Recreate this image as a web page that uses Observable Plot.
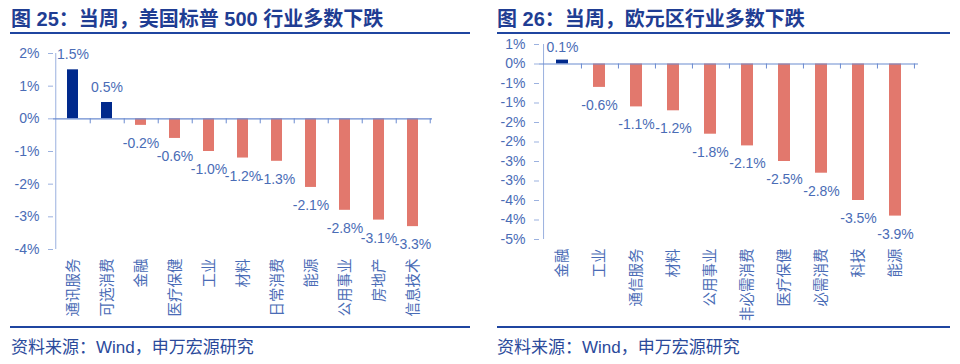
<!DOCTYPE html>
<html>
<head>
<meta charset="utf-8">
<script src="https://cdn.jsdelivr.net/npm/d3@7"></script>
<script src="https://cdn.jsdelivr.net/npm/@observablehq/plot@0.6"></script>
<style>
  html, body { margin: 0; padding: 0; background: #fff; }
  #page { position: relative; width: 960px; height: 364px; overflow: hidden; background: #fff;
          font-family: "Liberation Sans", "Noto Sans CJK SC", sans-serif; }
  .title { position: absolute; top: 9px; font-size: 20px; line-height: 20px; font-weight: bold; color: #1f3d93; white-space: nowrap; }
  .rule { position: absolute; height: 2px; background: #1f45a0; }
  .caption { position: absolute; top: 339px; font-size: 17px; line-height: 17px; color: #2b4a9b; white-space: nowrap; }
  .chart { position: absolute; top: 34px; }
  .chart svg { overflow: visible; }
</style>
</head>
<body>
<div id="page">
  <div class="title" style="left:11px">图 25：当周，美国标普 500 行业多数下跌</div>
  <div class="rule" style="left:10px;width:460px;top:32px"></div>
  <div class="title" style="left:497px">图 26：当周，欧元区行业多数下跌</div>
  <div class="rule" style="left:497px;width:453px;top:32px"></div>
  <div class="chart" id="left" style="left:0px"></div>
  <div class="chart" id="right" style="left:480px"></div>
  <div class="rule" style="left:10px;width:460px;top:326px"></div>
  <div class="rule" style="left:497px;width:453px;top:326px"></div>
  <div class="caption" style="left:11px">资料来源：Wind，申万宏源研究</div>
  <div class="caption" style="left:497px">资料来源：Wind，申万宏源研究</div>
</div>
<script>
// ---- data: 图25 美国标普500行业周涨跌幅 ----
const usCategories = ["通讯服务", "可选消费", "金融", "医疗保健", "工业", "材料", "日常消费", "能源", "公用事业", "房地产", "信息技术"];
const usValues = [1.5, 0.5, -0.2, -0.6, -1.0, -1.2, -1.3, -2.1, -2.8, -3.1, -3.3];
const usTicks = [2, 1, 0, -1, -2, -3, -4];
const usTickLabels = ["2%", "1%", "0%", "-1%", "-2%", "-3%", "-4%"];

// ---- data: 图26 欧元区行业周涨跌幅 ----
const euCategories = ["金融", "工业", "通信服务", "材料", "公用事业", "非必需消费", "医疗保健", "必需消费", "科技", "能源"];
const euValues = [0.1, -0.6, -1.1, -1.2, -1.8, -2.1, -2.5, -2.8, -3.5, -3.9];
const euTicks = [0.5, 0, -0.5, -1, -1.5, -2, -2.5, -3, -3.5, -4, -4.5];
const euTickLabels = ["1%", "0%", "-1%", "-1%", "-2%", "-2%", "-3%", "-3%", "-4%", "-4%", "-5%"];

// ---- styling ----
const FONT = "'Liberation Sans', 'Noto Sans CJK SC', sans-serif";
const NAVY = "#00298c";
const SALMON = "#e2786d";
const LABEL = "#4a6cb6";
const AXIS = "#9bb1df";
const ZERO = "#6b8bd0";

function chart(cats, vals, ticks, tickLabels, m, posDy) {
  const W = 480, H = 290;
  const data = cats.map((c, i) => ({cat: c, value: vals[i]}));
  const step = (W - m.left - m.right) / cats.length;
  const [lo, hi] = d3.extent(ticks);
  return Plot.plot({
    width: W, height: H,
    marginTop: m.top, marginBottom: m.bottom, marginLeft: m.left, marginRight: m.right,
    style: {fontFamily: FONT, fontSize: "14px", background: "transparent", overflow: "visible"},
    x: {domain: cats, paddingInner: 0.68, paddingOuter: 0.34, axis: null, label: null},
    y: {domain: [lo, hi], axis: null, label: null},
    color: {type: "identity"},
    marks: [
      Plot.barY(data, {x: "cat", y: "value", fill: d => d.value >= 0 ? NAVY : SALMON}),
      Plot.ruleX([cats[0]], {x: d => d, y1: lo, y2: hi, dx: -step / 2, stroke: AXIS}),
      Plot.ruleY([0], {stroke: ZERO, strokeWidth: 1.2}),
      Plot.ruleX(cats, {x: d => d, y1: 0, y2: 0, insetBottom: -5, dx: step / 2, stroke: ZERO}),
      Plot.axisY(ticks, {tickSize: 5, tickPadding: 9, tickFormat: d => tickLabels[ticks.indexOf(d)],
        stroke: AXIS, fill: LABEL, fontSize: 14, label: null}),
      Plot.axisX({anchor: "bottom", tickSize: 0, tickPadding: 9, tickRotate: -90, fill: LABEL, fontSize: 14.5, label: null}),
      Plot.text(data.filter(d => d.value >= 0), {x: "cat", y: "value", text: d => d.value.toFixed(1) + "%",
        dy: posDy, fill: LABEL, fontSize: 14}),
      Plot.text(data.filter(d => d.value < 0), {x: "cat", y: "value", text: d => d.value.toFixed(1) + "%",
        dy: 18, fill: LABEL, fontSize: 14})
    ]
  });
}

document.getElementById("left").append(
  chart(usCategories, usValues, usTicks, usTickLabels, {top: 19, bottom: 75, left: 53, right: 48}, -15));
document.getElementById("right").append(
  chart(euCategories, euValues, euTicks, euTickLabels, {top: 10, bottom: 85, left: 59, right: 42}, -13));
</script>
</body>
</html>
